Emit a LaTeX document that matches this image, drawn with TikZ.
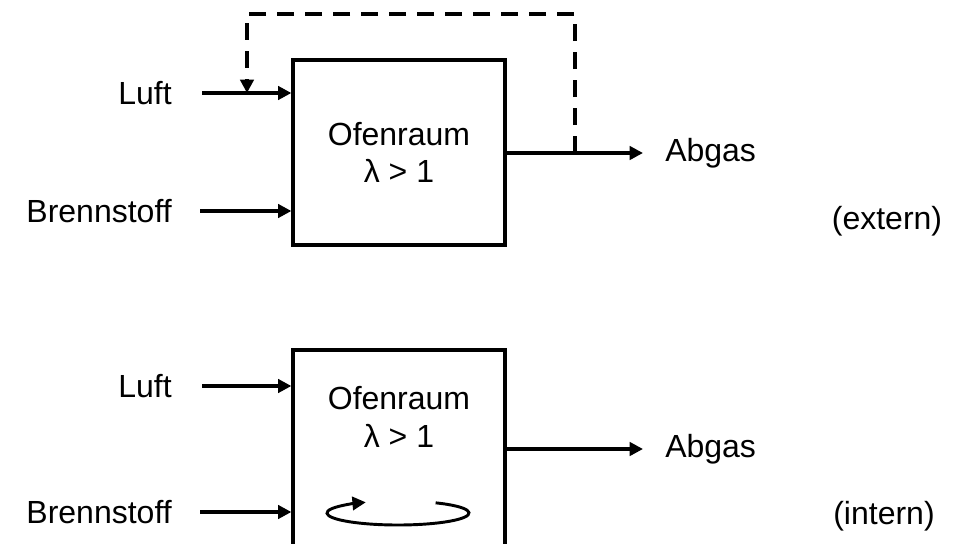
\documentclass[tikz,border=0pt]{standalone}
\usepackage{fontspec}
\setmainfont{Liberation Sans}
\usetikzlibrary{arrows.meta,calc}
\begin{document}
\begin{tikzpicture}[x=0.75pt,y=-0.75pt,
  font=\fontsize{24}{29}\selectfont,
  boxst/.style={draw,line width=2.4pt,minimum width=212*0.75pt,minimum height=185*0.75pt,inner sep=0pt},
  tip/.style={-{Triangle[length=10pt,width=10pt]}},
  flow/.style={line width=3pt,tip},
  fb/.style={line width=3pt,dash pattern=on 12.5pt off 8.5pt},
  lbl/.style={inner sep=0pt}]
\clip (0,0) rectangle (964,543);
\useasboundingbox (0,0) rectangle (964,543);
% top
\node[boxst,align=center] (box1) at (399,152.5) {Ofenraum\\[-1pt]λ > 1};
\node[lbl,anchor=east] (luft1) at (172,93) {Luft};
\node[lbl,anchor=east] (br1) at (172,211) {Brennstoff};
\node[lbl,anchor=west] (ab1) at (665,153) {Abgas};
\node[lbl] (ext) at (887,221) {(extern)};
\coordinate (l1s) at (202,93);
\coordinate (b1s) at (200,211);
\coordinate (a1e) at (643,153);
\coordinate (fbtr) at (575,14);
\coordinate (fbtl) at (247,14);
\draw[flow] (l1s) -- (box1.west |- l1s);
\draw[flow] (b1s) -- (box1.west |- b1s);
\draw[flow] (box1.east |- a1e) -- (a1e);
\draw[fb,tip] (fbtr |- a1e) -- (fbtr) -- (fbtl) -- (fbtl |- l1s);
% bottom
\node[boxst,minimum height=210*0.75pt] (box2) at (399,455) {};
\node[lbl,align=center] (t2) at (399,417) {Ofenraum\\[-1pt]λ > 1};
\node[lbl,anchor=east] (luft2) at (172,386) {Luft};
\node[lbl,anchor=east] (br2) at (172,512) {Brennstoff};
\node[lbl,anchor=west] (ab2) at (665,449) {Abgas};
\node[lbl] (int) at (884,516) {(intern)};
\coordinate (l2s) at (202,386);
\coordinate (b2s) at (200,512);
\coordinate (a2e) at (643,449);
\draw[flow] (l2s) -- (box2.west |- l2s);
\draw[flow] (b2s) -- (box2.west |- b2s);
\draw[flow] (box2.east |- a2e) -- (a2e);
\coordinate (ec) at (398,513);
\draw[line width=2.2pt,tip] ($(ec)+(58:71 and -12)$) arc[start angle=58,end angle=-243,x radius=71,y radius=-12];
\end{tikzpicture}
\end{document}
